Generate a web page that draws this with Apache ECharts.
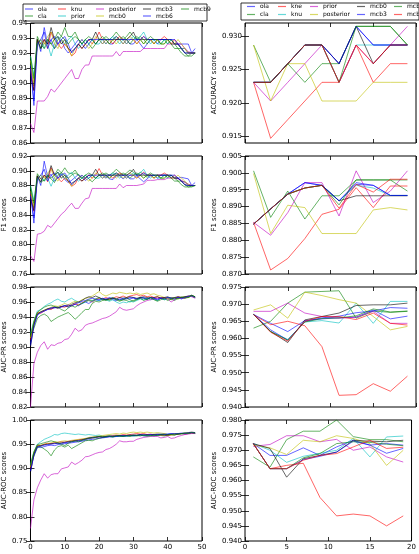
<!DOCTYPE html>
<html><head><meta charset="utf-8">
<script src="https://cdn.jsdelivr.net/npm/echarts@6/dist/echarts.min.js"></script>
<style>html,body{margin:0;padding:0;background:#fff}#c{width:419px;height:554px}</style>
</head><body><div id="c"></div>
<script>
// ---------- categories ----------
const leftNames = ['ola','cla','knu','prior','posterior','mcb0','mcb3','mcb6','mcb9'];
const rightNames = ['ola','cla','kne','knu','prior','posterior','mcb0','mcb3','mcb6','mcb9'];
const leftX = [0,1,2,3,4,5,6,7,8,9,10,11,12,13,14,15,16,17,18,19,20,21,22,23,24,25,26,27,28,29,30,31,32,33,34,35,36,37,38,39,40,41,42,43,44,45,46,47,48];
const rightX = [1,3,5,7,9,11,13,15,17,19];

// ---------- left column values (order = leftNames) ----------
const accLeft = [
 [0.912,0.885,0.929,0.921,0.937,0.926,0.929,0.923,0.926,0.929,0.923,0.920,0.923,0.926,0.929,0.926,0.923,0.926,0.929,0.926,0.929,0.926,0.929,0.926,0.926,0.929,0.929,0.926,0.929,0.926,0.926,0.929,0.926,0.923,0.926,0.929,0.929,0.926,0.929,0.929,0.929,0.926,0.926,0.926,0.926,0.926,0.926,0.920,0.923],
 [0.915,0.898,0.929,0.923,0.926,0.929,0.926,0.923,0.929,0.931,0.937,0.931,0.931,0.934,0.929,0.926,0.929,0.926,0.923,0.926,0.929,0.929,0.931,0.929,0.931,0.934,0.931,0.929,0.931,0.934,0.931,0.929,0.931,0.929,0.926,0.929,0.926,0.929,0.926,0.929,0.926,0.929,0.926,0.923,0.923,0.920,0.918,0.920,0.920],
 [0.910,0.895,0.929,0.926,0.929,0.923,0.934,0.929,0.926,0.923,0.926,0.923,0.918,0.920,0.926,0.923,0.926,0.929,0.926,0.929,0.934,0.929,0.926,0.929,0.926,0.929,0.931,0.929,0.926,0.929,0.929,0.926,0.929,0.931,0.929,0.929,0.926,0.929,0.929,0.931,0.929,0.926,0.929,0.926,0.923,0.923,0.920,0.920,0.920],
 [0.918,0.905,0.926,0.929,0.923,0.926,0.918,0.926,0.931,0.929,0.926,0.929,0.931,0.926,0.923,0.926,0.929,0.926,0.929,0.926,0.926,0.929,0.926,0.929,0.931,0.929,0.926,0.929,0.926,0.929,0.931,0.929,0.931,0.934,0.929,0.926,0.929,0.926,0.926,0.929,0.926,0.929,0.926,0.926,0.923,0.923,0.920,0.920,0.920],
 [0.873,0.867,0.888,0.888,0.888,0.891,0.896,0.894,0.897,0.900,0.903,0.906,0.909,0.903,0.903,0.909,0.912,0.912,0.918,0.918,0.918,0.918,0.918,0.918,0.918,0.921,0.918,0.921,0.921,0.921,0.921,0.921,0.921,0.923,0.923,0.923,0.923,0.923,0.923,0.923,0.926,0.926,0.926,0.926,0.926,0.923,0.921,0.920,0.920],
 [0.915,0.900,0.926,0.929,0.926,0.931,0.934,0.926,0.923,0.929,0.926,0.923,0.918,0.923,0.926,0.929,0.926,0.923,0.926,0.931,0.929,0.926,0.929,0.926,0.929,0.926,0.929,0.926,0.929,0.931,0.929,0.926,0.929,0.926,0.929,0.929,0.926,0.929,0.926,0.926,0.929,0.926,0.926,0.929,0.926,0.923,0.920,0.920,0.920],
 [0.905,0.895,0.929,0.923,0.929,0.926,0.937,0.929,0.931,0.926,0.929,0.923,0.921,0.923,0.926,0.923,0.926,0.929,0.929,0.934,0.929,0.929,0.929,0.929,0.929,0.929,0.929,0.929,0.929,0.931,0.934,0.929,0.929,0.929,0.929,0.929,0.929,0.929,0.929,0.929,0.929,0.929,0.926,0.926,0.923,0.920,0.920,0.920,0.920],
 [0.910,0.888,0.926,0.929,0.934,0.923,0.929,0.931,0.926,0.929,0.931,0.926,0.920,0.923,0.926,0.929,0.926,0.929,0.929,0.929,0.929,0.929,0.929,0.929,0.929,0.931,0.929,0.929,0.929,0.929,0.929,0.929,0.929,0.931,0.929,0.929,0.929,0.929,0.929,0.929,0.929,0.929,0.929,0.926,0.923,0.920,0.920,0.920,0.920],
 [0.918,0.903,0.931,0.926,0.923,0.929,0.926,0.929,0.934,0.931,0.929,0.926,0.929,0.931,0.929,0.926,0.929,0.931,0.929,0.926,0.929,0.931,0.929,0.926,0.929,0.931,0.929,0.931,0.929,0.926,0.929,0.931,0.929,0.926,0.929,0.931,0.929,0.929,0.926,0.926,0.929,0.926,0.923,0.923,0.920,0.918,0.918,0.918,0.920]
];
const f1Left = [
 [0.870,0.829,0.893,0.880,0.913,0.892,0.895,0.886,0.890,0.896,0.888,0.884,0.887,0.891,0.895,0.891,0.887,0.890,0.894,0.890,0.894,0.890,0.893,0.889,0.888,0.893,0.893,0.889,0.893,0.889,0.889,0.893,0.889,0.885,0.889,0.893,0.894,0.890,0.894,0.894,0.894,0.891,0.891,0.890,0.891,0.890,0.889,0.880,0.884],
 [0.876,0.850,0.892,0.884,0.888,0.893,0.889,0.884,0.894,0.897,0.904,0.897,0.896,0.901,0.894,0.889,0.894,0.889,0.885,0.890,0.894,0.894,0.897,0.894,0.897,0.902,0.898,0.894,0.897,0.901,0.898,0.894,0.898,0.895,0.891,0.895,0.890,0.894,0.890,0.894,0.891,0.894,0.890,0.886,0.886,0.881,0.878,0.879,0.880],
 [0.868,0.845,0.893,0.889,0.894,0.885,0.904,0.894,0.890,0.885,0.890,0.886,0.879,0.882,0.890,0.886,0.890,0.894,0.890,0.894,0.903,0.894,0.890,0.894,0.890,0.894,0.897,0.894,0.890,0.894,0.894,0.890,0.894,0.898,0.894,0.894,0.890,0.894,0.894,0.897,0.894,0.890,0.894,0.890,0.886,0.885,0.881,0.880,0.880],
 [0.880,0.860,0.890,0.894,0.886,0.890,0.879,0.890,0.898,0.894,0.890,0.894,0.898,0.890,0.886,0.890,0.894,0.890,0.894,0.890,0.890,0.894,0.890,0.894,0.897,0.894,0.890,0.894,0.890,0.894,0.897,0.894,0.897,0.902,0.894,0.890,0.894,0.890,0.890,0.894,0.890,0.894,0.890,0.890,0.886,0.885,0.881,0.880,0.880],
 [0.785,0.777,0.814,0.815,0.818,0.826,0.823,0.829,0.835,0.841,0.845,0.851,0.856,0.849,0.849,0.856,0.862,0.863,0.876,0.876,0.876,0.876,0.876,0.876,0.876,0.876,0.882,0.877,0.880,0.880,0.880,0.880,0.881,0.882,0.887,0.887,0.887,0.888,0.888,0.888,0.890,0.890,0.890,0.889,0.887,0.884,0.882,0.880,0.880],
 [0.872,0.852,0.889,0.894,0.890,0.897,0.902,0.890,0.886,0.894,0.890,0.886,0.879,0.886,0.890,0.894,0.890,0.886,0.890,0.897,0.894,0.890,0.894,0.890,0.894,0.890,0.894,0.890,0.894,0.897,0.894,0.890,0.894,0.890,0.894,0.894,0.890,0.894,0.890,0.890,0.894,0.890,0.890,0.894,0.890,0.886,0.881,0.880,0.880],
 [0.862,0.846,0.893,0.885,0.894,0.890,0.907,0.894,0.898,0.890,0.894,0.886,0.883,0.886,0.890,0.886,0.890,0.894,0.894,0.902,0.894,0.894,0.894,0.894,0.894,0.894,0.894,0.894,0.894,0.897,0.902,0.894,0.894,0.894,0.894,0.894,0.894,0.894,0.894,0.894,0.894,0.894,0.890,0.890,0.886,0.881,0.880,0.880,0.880],
 [0.866,0.836,0.889,0.894,0.902,0.886,0.894,0.897,0.890,0.894,0.897,0.890,0.881,0.886,0.890,0.894,0.890,0.894,0.894,0.894,0.894,0.894,0.894,0.894,0.894,0.897,0.894,0.894,0.894,0.894,0.894,0.894,0.894,0.897,0.894,0.894,0.894,0.894,0.894,0.894,0.894,0.894,0.894,0.890,0.886,0.881,0.880,0.880,0.880],
 [0.879,0.856,0.896,0.889,0.886,0.894,0.890,0.894,0.902,0.897,0.894,0.890,0.894,0.897,0.894,0.890,0.894,0.897,0.894,0.890,0.894,0.897,0.894,0.890,0.894,0.897,0.894,0.897,0.894,0.890,0.894,0.897,0.894,0.890,0.894,0.897,0.894,0.894,0.890,0.890,0.894,0.890,0.886,0.886,0.881,0.878,0.878,0.878,0.880]
];
const prLeft = [
 [0.905,0.930,0.944,0.946,0.948,0.950,0.951,0.952,0.953,0.954,0.955,0.953,0.955,0.957,0.955,0.958,0.960,0.958,0.961,0.963,0.962,0.964,0.963,0.965,0.963,0.962,0.964,0.963,0.965,0.964,0.966,0.964,0.966,0.965,0.964,0.966,0.965,0.964,0.966,0.965,0.966,0.963,0.965,0.966,0.964,0.966,0.967,0.968,0.966],
 [0.915,0.925,0.938,0.942,0.944,0.941,0.934,0.937,0.940,0.942,0.944,0.946,0.942,0.937,0.941,0.946,0.950,0.950,0.958,0.961,0.960,0.962,0.964,0.962,0.965,0.963,0.961,0.963,0.962,0.960,0.962,0.964,0.966,0.965,0.963,0.966,0.964,0.962,0.965,0.963,0.966,0.964,0.962,0.965,0.966,0.967,0.966,0.968,0.967],
 [0.910,0.932,0.946,0.945,0.948,0.951,0.950,0.953,0.952,0.954,0.953,0.956,0.955,0.958,0.956,0.959,0.961,0.962,0.960,0.963,0.965,0.964,0.966,0.964,0.965,0.967,0.966,0.968,0.966,0.968,0.969,0.970,0.968,0.969,0.967,0.968,0.966,0.967,0.965,0.966,0.964,0.966,0.965,0.967,0.966,0.965,0.967,0.968,0.966],
 [0.918,0.935,0.948,0.950,0.954,0.957,0.959,0.962,0.964,0.961,0.960,0.963,0.965,0.962,0.960,0.958,0.960,0.962,0.961,0.963,0.962,0.964,0.963,0.961,0.963,0.960,0.958,0.960,0.959,0.961,0.960,0.962,0.964,0.963,0.965,0.963,0.964,0.962,0.965,0.963,0.964,0.966,0.964,0.966,0.965,0.966,0.967,0.968,0.966],
 [0.820,0.878,0.893,0.902,0.907,0.897,0.903,0.902,0.905,0.906,0.910,0.911,0.917,0.925,0.921,0.923,0.929,0.931,0.932,0.934,0.936,0.938,0.939,0.941,0.944,0.947,0.953,0.950,0.949,0.950,0.951,0.955,0.958,0.960,0.962,0.963,0.964,0.965,0.965,0.966,0.964,0.960,0.963,0.966,0.965,0.966,0.968,0.967,0.965],
 [0.912,0.933,0.945,0.947,0.949,0.951,0.953,0.955,0.954,0.956,0.958,0.956,0.959,0.961,0.960,0.963,0.965,0.966,0.968,0.971,0.974,0.970,0.968,0.970,0.972,0.971,0.973,0.972,0.971,0.972,0.971,0.972,0.970,0.971,0.972,0.970,0.971,0.969,0.968,0.966,0.965,0.963,0.965,0.964,0.966,0.967,0.966,0.968,0.966],
 [0.900,0.930,0.944,0.947,0.949,0.951,0.952,0.953,0.952,0.954,0.955,0.954,0.957,0.959,0.960,0.962,0.965,0.967,0.966,0.968,0.966,0.964,0.963,0.964,0.965,0.964,0.966,0.965,0.966,0.967,0.966,0.965,0.966,0.967,0.966,0.965,0.966,0.967,0.965,0.966,0.967,0.965,0.966,0.967,0.966,0.967,0.968,0.969,0.967],
 [0.902,0.928,0.942,0.946,0.948,0.950,0.952,0.953,0.952,0.953,0.955,0.956,0.955,0.957,0.959,0.961,0.962,0.964,0.965,0.964,0.963,0.965,0.964,0.966,0.965,0.964,0.963,0.965,0.964,0.966,0.965,0.964,0.965,0.966,0.964,0.966,0.965,0.963,0.965,0.964,0.966,0.965,0.964,0.966,0.965,0.966,0.967,0.968,0.966],
 [0.914,0.934,0.946,0.950,0.953,0.955,0.956,0.954,0.953,0.950,0.948,0.952,0.955,0.953,0.956,0.958,0.961,0.963,0.962,0.964,0.966,0.963,0.962,0.964,0.966,0.964,0.962,0.963,0.965,0.963,0.961,0.963,0.965,0.962,0.964,0.966,0.963,0.961,0.963,0.965,0.962,0.964,0.966,0.964,0.967,0.965,0.966,0.969,0.967]
];
const rocLeft = [
 [0.895,0.928,0.945,0.943,0.945,0.947,0.948,0.947,0.949,0.950,0.951,0.952,0.953,0.954,0.955,0.956,0.958,0.959,0.960,0.961,0.962,0.963,0.964,0.965,0.965,0.966,0.967,0.966,0.967,0.968,0.967,0.968,0.969,0.967,0.968,0.970,0.969,0.968,0.970,0.969,0.970,0.971,0.970,0.971,0.972,0.971,0.972,0.973,0.972],
 [0.905,0.925,0.943,0.945,0.940,0.935,0.926,0.938,0.945,0.947,0.944,0.948,0.941,0.945,0.949,0.953,0.957,0.958,0.957,0.960,0.962,0.964,0.965,0.966,0.965,0.967,0.966,0.968,0.967,0.966,0.968,0.967,0.969,0.968,0.966,0.968,0.967,0.969,0.968,0.967,0.969,0.970,0.969,0.971,0.972,0.973,0.972,0.974,0.973],
 [0.900,0.932,0.948,0.947,0.950,0.952,0.951,0.953,0.954,0.955,0.954,0.956,0.957,0.958,0.959,0.960,0.961,0.962,0.963,0.964,0.965,0.966,0.967,0.966,0.968,0.969,0.968,0.970,0.969,0.970,0.971,0.972,0.971,0.972,0.970,0.971,0.969,0.970,0.968,0.969,0.968,0.969,0.970,0.971,0.972,0.971,0.972,0.973,0.972],
 [0.908,0.935,0.950,0.955,0.960,0.963,0.966,0.970,0.969,0.972,0.973,0.972,0.971,0.970,0.971,0.970,0.969,0.970,0.969,0.968,0.969,0.967,0.966,0.967,0.965,0.966,0.967,0.966,0.967,0.968,0.967,0.968,0.969,0.968,0.967,0.969,0.968,0.970,0.969,0.970,0.971,0.970,0.971,0.972,0.971,0.972,0.973,0.974,0.973],
 [0.776,0.835,0.860,0.876,0.889,0.880,0.887,0.889,0.889,0.899,0.901,0.903,0.913,0.908,0.912,0.917,0.924,0.925,0.928,0.931,0.933,0.934,0.939,0.941,0.945,0.950,0.957,0.955,0.955,0.956,0.956,0.960,0.962,0.964,0.965,0.966,0.966,0.966,0.963,0.964,0.966,0.962,0.963,0.966,0.968,0.970,0.971,0.972,0.972],
 [0.903,0.933,0.947,0.948,0.950,0.951,0.953,0.955,0.954,0.956,0.957,0.956,0.958,0.959,0.960,0.961,0.962,0.964,0.965,0.966,0.967,0.968,0.969,0.970,0.971,0.972,0.971,0.973,0.972,0.974,0.975,0.974,0.975,0.974,0.975,0.974,0.973,0.974,0.973,0.972,0.970,0.969,0.970,0.972,0.971,0.972,0.973,0.974,0.973],
 [0.892,0.930,0.946,0.947,0.949,0.950,0.951,0.952,0.951,0.953,0.954,0.955,0.956,0.957,0.958,0.959,0.961,0.963,0.964,0.965,0.966,0.965,0.966,0.967,0.966,0.967,0.968,0.967,0.968,0.969,0.968,0.969,0.970,0.969,0.970,0.969,0.970,0.971,0.970,0.971,0.970,0.971,0.972,0.971,0.972,0.973,0.974,0.975,0.974],
 [0.894,0.927,0.944,0.946,0.948,0.949,0.950,0.951,0.952,0.951,0.953,0.954,0.955,0.956,0.957,0.958,0.960,0.962,0.963,0.964,0.965,0.964,0.965,0.966,0.967,0.966,0.967,0.968,0.967,0.968,0.969,0.968,0.969,0.970,0.969,0.970,0.969,0.970,0.971,0.970,0.971,0.972,0.971,0.972,0.973,0.972,0.973,0.974,0.973],
 [0.907,0.934,0.949,0.951,0.953,0.955,0.957,0.955,0.953,0.950,0.947,0.952,0.955,0.957,0.955,0.958,0.960,0.962,0.963,0.964,0.966,0.965,0.966,0.967,0.966,0.968,0.967,0.966,0.968,0.967,0.969,0.968,0.967,0.969,0.968,0.967,0.969,0.968,0.970,0.969,0.968,0.970,0.969,0.971,0.972,0.973,0.972,0.974,0.973]
];

// ---------- right column values (order = rightNames) ----------
const accRight = [
 [0.9231,0.9231,0.9259,0.9287,0.9287,0.9259,0.9315,0.9287,0.9287,0.9287],
 [0.9287,0.9231,0.9259,0.9231,0.9259,0.9259,0.9315,0.9315,0.9315,0.9287],
 [0.9231,0.9147,0.9175,0.9203,0.9231,0.9231,0.9287,0.9231,0.9259,0.9259],
 [0.9231,0.9231,0.9259,0.9287,0.9287,0.9231,0.9287,0.9287,0.9287,0.9287],
 [0.9231,0.9203,0.9231,0.9259,0.9287,0.9231,0.9287,0.9259,0.9287,0.9315],
 [0.9287,0.9203,0.9259,0.9259,0.9203,0.9203,0.9203,0.9231,0.9231,0.9231],
 [0.9231,0.9231,0.9259,0.9287,0.9287,0.9259,0.9315,0.9259,0.9287,0.9287],
 [0.9231,0.9231,0.9259,0.9287,0.9287,0.9259,0.9315,0.9287,0.9287,0.9287],
 [0.9231,0.9231,0.9259,0.9287,0.9287,0.9231,0.9315,0.9315,0.9315,0.9287],
 [0.9231,0.9231,0.9259,0.9287,0.9287,0.9231,0.9287,0.9259,0.9287,0.9287]
];
const f1Right = [
 [0.8848,0.8893,0.8937,0.8971,0.8963,0.8917,0.8971,0.8963,0.8933,0.8933],
 [0.9006,0.8868,0.8946,0.8863,0.8932,0.8932,0.8979,0.8979,0.8979,0.8946],
 [0.8853,0.8712,0.8746,0.8805,0.8877,0.8892,0.8956,0.8897,0.8961,0.8961],
 [0.8848,0.8893,0.8937,0.8955,0.8963,0.8917,0.8963,0.8955,0.8933,0.8933],
 [0.8853,0.8815,0.8882,0.8971,0.8971,0.8872,0.9006,0.8912,0.8946,0.9006],
 [0.8998,0.8820,0.8904,0.8897,0.8820,0.8820,0.8820,0.8890,0.8897,0.8890],
 [0.8848,0.8893,0.8937,0.8955,0.8963,0.8917,0.8932,0.8932,0.8932,0.8932],
 [0.8848,0.8893,0.8937,0.8971,0.8963,0.8917,0.8966,0.8963,0.8933,0.8933],
 [0.8848,0.8893,0.8937,0.8955,0.8963,0.8905,0.8979,0.8979,0.8979,0.8979],
 [0.8848,0.8893,0.8937,0.8955,0.8963,0.8895,0.8966,0.8943,0.8981,0.8981]
];
const prRight = [
 [0.9670,0.9644,0.9620,0.9652,0.9657,0.9660,0.9662,0.9683,0.9657,0.9665],
 [0.9630,0.9650,0.9703,0.9735,0.9737,0.9739,0.9659,0.9680,0.9676,0.9679],
 [0.9669,0.9640,0.9650,0.9637,0.9576,0.9434,0.9436,0.9468,0.9446,0.9490],
 [0.9670,0.9620,0.9597,0.9648,0.9652,0.9645,0.9703,0.9644,0.9708,0.9708],
 [0.9679,0.9679,0.9703,0.9674,0.9664,0.9659,0.9662,0.9679,0.9644,0.9644],
 [0.9683,0.9698,0.9659,0.9735,0.9725,0.9713,0.9703,0.9664,0.9625,0.9635],
 [0.9670,0.9620,0.9588,0.9654,0.9664,0.9674,0.9696,0.9698,0.9698,0.9703],
 [0.9670,0.9625,0.9595,0.9650,0.9660,0.9665,0.9675,0.9680,0.9690,0.9688],
 [0.9670,0.9620,0.9595,0.9648,0.9658,0.9660,0.9666,0.9686,0.9677,0.9680],
 [0.9670,0.9618,0.9592,0.9650,0.9664,0.9664,0.9655,0.9674,0.9644,0.9639]
];
const rocRight = [
 [0.9722,0.9683,0.9683,0.9708,0.9683,0.9711,0.9733,0.9717,0.9690,0.9706],
 [0.9678,0.9644,0.9735,0.9763,0.9763,0.9800,0.9745,0.9735,0.9735,0.9728],
 [0.9722,0.9639,0.9650,0.9657,0.9544,0.9483,0.9489,0.9483,0.9450,0.9483],
 [0.9722,0.9700,0.9660,0.9680,0.9690,0.9700,0.9739,0.9678,0.9744,0.9747],
 [0.9713,0.9719,0.9748,0.9748,0.9728,0.9736,0.9700,0.9711,0.9678,0.9661],
 [0.9717,0.9708,0.9686,0.9733,0.9728,0.9748,0.9739,0.9722,0.9650,0.9700],
 [0.9722,0.9706,0.9611,0.9672,0.9683,0.9694,0.9733,0.9730,0.9728,0.9733],
 [0.9722,0.9639,0.9639,0.9669,0.9680,0.9694,0.9730,0.9717,0.9722,0.9717],
 [0.9722,0.9639,0.9639,0.9675,0.9689,0.9722,0.9728,0.9726,0.9720,0.9715],
 [0.9722,0.9639,0.9639,0.9667,0.9683,0.9689,0.9711,0.9733,0.9706,0.9710]
];

// ---------- tick labels ----------
const accRightTicks = [0.915,0.920,0.925,0.930];

// ---------- styling ----------
const FONT = 'DejaVu Sans';
const rgb = {b:'0,0,255', g:'0,128,0', r:'255,0,0', c:'0,191,191', m:'191,0,191', y:'191,191,0', k:'0,0,0'};
const ALPHA = 0.6;
const leftKeys = ['b','g','r','c','m','y','k','b','g'];
const rightKeys = ['b','g','r','c','m','y','k','b','g','r'];
const col = k => 'rgba(' + rgb[k] + ',' + ALPHA + ')';

const panels = [
 {data:accLeft, side:0, row:0, min:0.86, max:0.94, interval:0.01, dec:2, title:'ACCURACY scores'},
 {data:f1Left,  side:0, row:1, min:0.76, max:0.92, interval:0.02, dec:2, title:'F1 scores'},
 {data:prLeft,  side:0, row:2, min:0.82, max:0.98, interval:0.02, dec:2, title:'AUC-PR scores'},
 {data:rocLeft, side:0, row:3, min:0.75, max:1.00, interval:0.05, dec:2, title:'AUC-ROC scores'},
 {data:accRight, side:1, row:0, min:0.914, max:0.932, custom:accRightTicks, dec:3, title:'ACCURACY scores'},
 {data:f1Right,  side:1, row:1, min:0.870, max:0.905, interval:0.005, dec:3, title:'F1 scores'},
 {data:prRight,  side:1, row:2, min:0.940, max:0.975, interval:0.005, dec:3, title:'AUC-PR scores'},
 {data:rocRight, side:1, row:3, min:0.940, max:0.980, interval:0.005, dec:3, title:'AUC-ROC scores'}
];

const colLeft = [27, 245], colWidth = [175, 171];
const rowTop = [23, 156, 287, 420], rowH = [120, 118, 120, 121];

const grids = [], xAxes = [], yAxes = [], series = [];
const tickStyle = {show:true, inside:true, length:4, lineStyle:{color:'#000', width:0.8}};

panels.forEach((p, i) => {
  grids.push({left:colLeft[p.side], top:rowTop[p.row], width:colWidth[p.side], height:rowH[p.row],
    show:true, borderColor:'#000', borderWidth:1, backgroundColor:'transparent', containLabel:false});
  const xr = p.side === 0 ? {min:0, max:50, interval:10} : {min:0, max:20, interval:5};
  xAxes.push(Object.assign({type:'value', gridIndex:i, position:'bottom', axisLine:{show:false},
    axisTick:tickStyle, splitLine:{show:false},
    axisLabel:{show:p.row === 3, fontSize:7, fontFamily:FONT, color:'#000', margin:3}}, xr));
  xAxes.push(Object.assign({type:'value', gridIndex:i, position:'top', axisLine:{show:false},
    axisTick:tickStyle, splitLine:{show:false}, axisLabel:{show:false}}, xr));
  const yl = {fontSize:7, fontFamily:FONT, color:'#000', margin:3, formatter: v => v.toFixed(p.dec)};
  const yt = Object.assign({}, tickStyle);
  const yr = {min:p.min, max:p.max};
  if (p.custom) {
    yl.customValues = p.custom;
    yt.customValues = p.custom;
  } else {
    yr.interval = p.interval;
  }
  yAxes.push(Object.assign({type:'value', gridIndex:i, position:'left', name:p.title, nameLocation:'middle',
    nameGap:p.side === 0 ? 20 : 21, nameTextStyle:{fontSize:7, fontFamily:FONT, color:'#000'},
    axisLine:{show:false}, axisTick:yt, splitLine:{show:false}, axisLabel:yl}, yr));
  yAxes.push(Object.assign({type:'value', gridIndex:i, position:'right', axisLine:{show:false},
    axisTick:yt, splitLine:{show:false}, axisLabel:{show:false, customValues:p.custom}}, yr));
  const names = p.side === 0 ? leftNames : rightNames;
  const keys = p.side === 0 ? leftKeys : rightKeys;
  const xs = p.side === 0 ? leftX : rightX;
  p.data.forEach((vals, j) => {
    const c = col(keys[j]);
    series.push({type:'line', name:(p.side ? 'R·' : '') + names[j], xAxisIndex:2*i, yAxisIndex:2*i,
      data:xs.map((x, k) => [x, vals[k]]), symbol:'none', showSymbol:false, silent:true,
      color:c, lineStyle:{width:1, color:c}, itemStyle:{color:c}});
  });
});

// ---------- legends ----------
const leftLegendCols = [['ola','cla'],['knu','prior'],['posterior','mcb0'],['mcb3','mcb6'],['mcb9']];
const leftLegendX = [25, 58, 96, 143, 181];
const rightLegendCols = [['ola','cla'],['kne','knu'],['prior','posterior'],['mcb0','mcb3'],['mcb6','mcb9']];
const rightLegendX = [247, 278, 310, 357, 394];
const legends = [];
const legendBase = {orient:'vertical', itemWidth:8, itemHeight:1.2, icon:'rect', itemTextGap:3,
  selectedMode:false, padding:0, formatter: n => n.replace(/^R·/, ''),
  textStyle:{fontSize:6, fontFamily:FONT, color:'#000', lineHeight:7}};
leftLegendCols.forEach((names, ci) => legends.push(Object.assign({}, legendBase,
  {left:leftLegendX[ci], top:5.5, itemGap:0, data:names})));
rightLegendCols.forEach((names, ci) => legends.push(Object.assign({}, legendBase,
  {left:rightLegendX[ci], top:3, itemGap:1, data:names.map(n => 'R·' + n)})));

const chart = echarts.init(document.getElementById('c'), null, {renderer:'canvas'});
chart.setOption({
  animation:false,
  backgroundColor:'#fff',
  grid:grids, xAxis:xAxes, yAxis:yAxes, series:series, legend:legends,
  graphic:[
    {type:'rect', shape:{x:23, y:4, width:184, height:17}, style:{fill:'none', stroke:'#000', lineWidth:0.8}, silent:true, z:-1},
    {type:'rect', shape:{x:241, y:3, width:178, height:17}, style:{fill:'none', stroke:'#000', lineWidth:0.8}, silent:true, z:-1}
  ]
});
</script>
</body></html>
